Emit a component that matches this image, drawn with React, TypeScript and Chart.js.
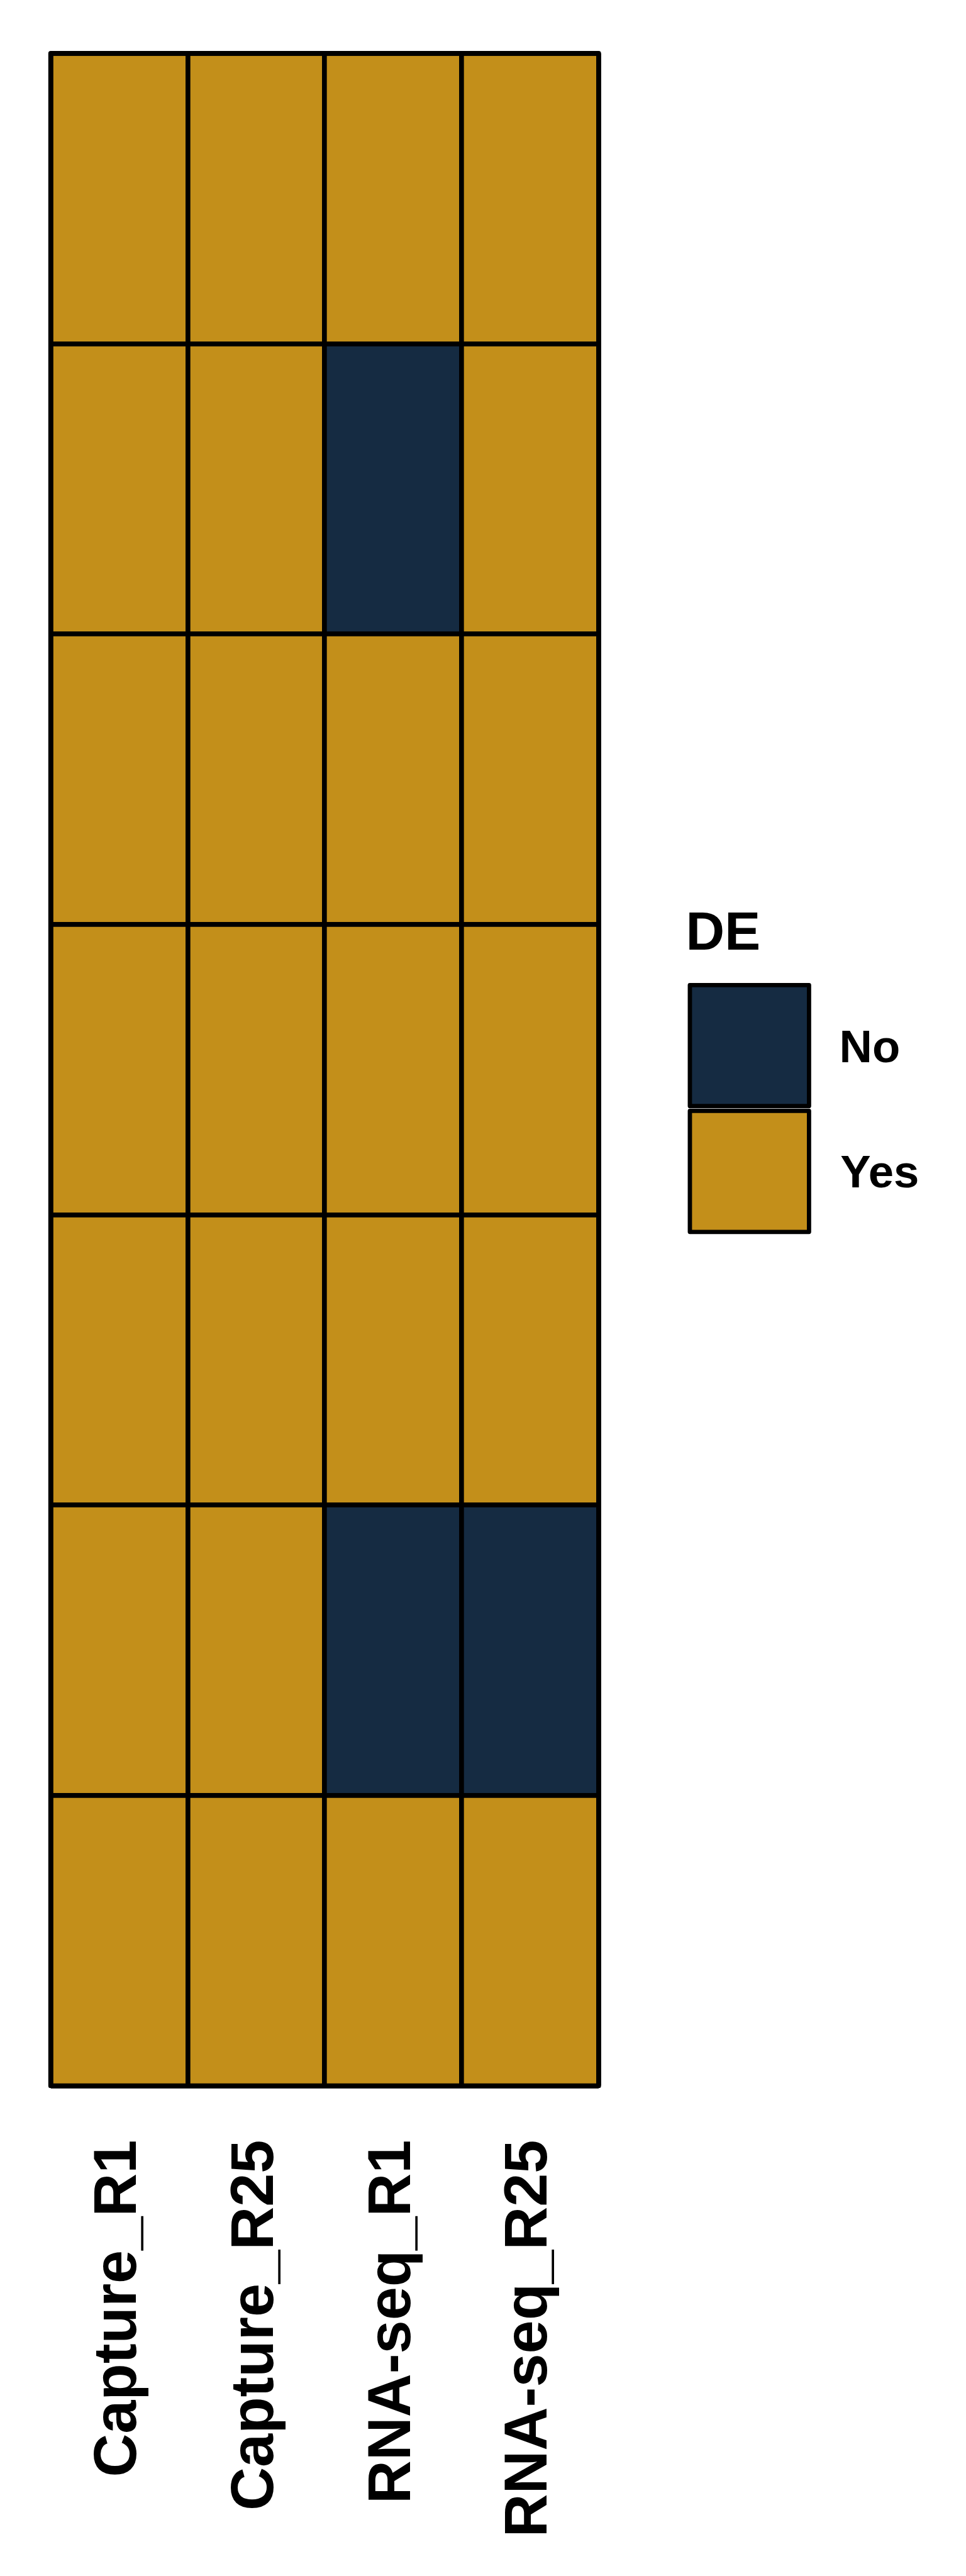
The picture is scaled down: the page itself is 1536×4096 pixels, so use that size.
import React, { useEffect, useRef } from "react";
import { Chart, registerables } from "chart.js";

Chart.register(...registerables);

// ---- data (rows listed top to bottom) ----
const columns = ["Capture_R1", "Capture_R25", "RNA-seq_R1", "RNA-seq_R25"];
const captureR1 = ["Yes", "Yes", "Yes", "Yes", "Yes", "Yes", "Yes"];
const captureR25 = ["Yes", "Yes", "Yes", "Yes", "Yes", "Yes", "Yes"];
const rnaseqR1 = ["Yes", "No", "Yes", "Yes", "Yes", "No", "Yes"];
const rnaseqR25 = ["Yes", "Yes", "Yes", "Yes", "Yes", "No", "Yes"];
const deLevels = ["No", "Yes"];
const deColors = ["#152B42", "#C38F1A"];
const legendTitle = "DE";

const S = 1536 / 1800;
const W = 1536;
const H = 4096;
const FONT = "'Liberation Sans', Arial, Helvetica, sans-serif";

export default function App() {
  const ref = useRef<HTMLCanvasElement>(null);

  useEffect(() => {
    const canvas = ref.current;
    if (!canvas) return;
    const columnValues = [captureR1, captureR25, rnaseqR1, rnaseqR25];
    const nRows = captureR1.length;
    const colorOf = (v: string) => deColors[deLevels.indexOf(v)];

    const datasets: any[] = [];
    for (let r = nRows - 1; r >= 0; r--) {
      datasets.push({
        label: "row" + (r + 1),
        data: columns.map(() => 1),
        backgroundColor: columnValues.map((col) => colorOf(col[r])),
        borderWidth: 0,
        barPercentage: 1,
        categoryPercentage: 1,
        stack: "cells",
      });
    }

    const lw = 9 * S;

    const framePlugin = {
      id: "frame",
      afterDraw(chart: any) {
        const { ctx, chartArea } = chart;
        ctx.save();
        ctx.strokeStyle = "#000";
        ctx.lineWidth = lw;
        ctx.lineJoin = "round";
        ctx.strokeRect(
          chartArea.left,
          chartArea.top,
          chartArea.right - chartArea.left,
          chartArea.bottom - chartArea.top
        );
        ctx.restore();
      },
    };

    const legendPlugin = {
      id: "deLegend",
      afterDraw(chart: any) {
        const ctx = chart.ctx;
        ctx.save();
        ctx.fillStyle = "#000";
        ctx.textBaseline = "alphabetic";
        ctx.textAlign = "left";
        ctx.font = `bold ${100 * S}px ${FONT}`;
        ctx.fillText(legendTitle, 1278 * S, 1769 * S);
        const boxX = 1285.5 * S;
        const boxW = 222 * S;
        const boxH = 225.5 * S;
        const boxY = [1835.5 * S, 2070 * S];
        const textX = [1564 * S, 1566 * S];
        const textY = [1979 * S, 2213 * S];
        deLevels.forEach((lvl, i) => {
          ctx.fillStyle = deColors[i];
          ctx.fillRect(boxX, boxY[i], boxW, boxH);
          ctx.strokeStyle = "#000";
          ctx.lineWidth = 8 * S;
          ctx.lineJoin = "round";
          ctx.strokeRect(boxX, boxY[i], boxW, boxH);
          ctx.fillStyle = "#000";
          ctx.font = `bold ${85 * S}px ${FONT}`;
          ctx.fillText(lvl, textX[i], textY[i]);
        });
        ctx.restore();
      },
    };

    const chart = new Chart(canvas, {
      type: "bar",
      data: { labels: columns, datasets },
      options: {
        animation: false,
        responsive: false,
        devicePixelRatio: 1,
        layout: {
          padding: { left: 94.5 * S, top: 99.5 * S, right: W - 1115.5 * S, bottom: 0 },
        },
        plugins: {
          legend: { display: false },
          tooltip: { enabled: false },
          title: { display: false },
        },
        scales: {
          x: {
            type: "category",
            stacked: true,
            offset: true,
            grid: {
              display: true,
              offset: true,
              color: "#000",
              lineWidth: lw,
              drawTicks: false,
              z: 1,
            },
            border: { display: false },
            ticks: {
              display: true,
              autoSkip: false,
              minRotation: 90,
              maxRotation: 90,
              padding: 86,
              color: "#000",
              font: { family: FONT, size: 112 * S, weight: "bold" },
            },
            afterFit: (scale: any) => {
              scale.height = H - 3886.5 * S;
            },
          },
          y: {
            type: "linear",
            stacked: true,
            min: 0,
            max: 7,
            grid: {
              display: true,
              color: "#000",
              lineWidth: lw,
              drawTicks: false,
              z: 1,
            },
            border: { display: false },
            ticks: { display: false, stepSize: 1 },
            afterFit: (scale: any) => {
              scale.width = 0;
            },
          },
        },
      } as any,
      plugins: [framePlugin, legendPlugin],
    });

    return () => chart.destroy();
  }, []);

  return (
    <div
      style={{
        position: "absolute",
        left: 0,
        top: 0,
        width: W,
        height: H,
        background: "#fff",
      }}
    >
      <canvas ref={ref} width={W} height={H} style={{ display: "block" }} />
    </div>
  );
}
